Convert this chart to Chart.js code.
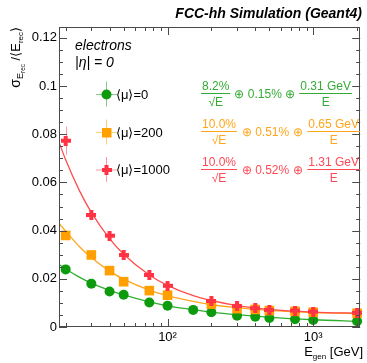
<!DOCTYPE html>
<html lang="en">
<head>
<meta charset="UTF-8">
<title>FCC-hh electron energy resolution</title>
<script src="https://cdn.jsdelivr.net/npm/chart.js"></script>
<style>
  html, body { margin: 0; padding: 0; background: #fff; }
  #resChart { display: block; }
</style>
</head>
<body>
<canvas id="resChart" width="367" height="363"></canvas>
<script>
// generated electron energies (GeV)
const energiesMu0 = [20, 30, 40, 50, 75, 100, 150, 200, 300, 400, 500, 750, 1000, 2000];
const energiesPU = [20, 30, 40, 50, 75, 100, 200, 300, 400, 500, 750, 1000, 2000];

// sigma(E)/<E>
const resMu0 = [0.0239, 0.0180, 0.0147, 0.0134, 0.0102, 0.0088, 0.0071, 0.0061, 0.0047, 0.0043, 0.0037, 0.0032, 0.0029, 0.0024];
const resMu200 = [0.0380, 0.0299, 0.0234, 0.0188, 0.0151, 0.0132, 0.0095, 0.0076, 0.0073, 0.0068, 0.0065, 0.0061, 0.0057];
const resMu1000 = [0.0773, 0.0465, 0.0379, 0.0299, 0.0216, 0.0171, 0.0108, 0.0087, 0.0078, 0.0071, 0.0068, 0.0064, 0.0059];

// vertical error bars
const errMu0 = [0.0008, 0.0006, 0.0005, 0.0005, 0.0004, 0.0004, 0.0003, 0.0003, 0.0002, 0.0002, 0.0002, 0.0002, 0.0002, 0.0002];
const errMu200 = [0.0012, 0.0009, 0.0008, 0.0007, 0.0006, 0.0005, 0.0004, 0.0003, 0.0003, 0.0003, 0.0003, 0.0003, 0.0003];
const errMu1000 = [0.0058, 0.0012, 0.0010, 0.0009, 0.0008, 0.0007, 0.0005, 0.0004, 0.0004, 0.0004, 0.0003, 0.0003, 0.0003];

// fitted curves
const fitE = [18, 20, 25, 30, 40, 50, 75, 100, 150, 200, 300, 500, 1000, 2100];
const fitMu0 = [0.0259, 0.0241, 0.0206, 0.0182, 0.0152, 0.0133, 0.0104, 0.0088, 0.0072, 0.0062, 0.0051, 0.0040, 0.0030, 0.0023];
const fitMu200 = [0.0430, 0.0398, 0.0332, 0.0288, 0.0232, 0.0199, 0.0153, 0.0130, 0.0106, 0.0093, 0.0080, 0.0069, 0.0060, 0.0056];
const fitMu1000 = [0.0767, 0.0694, 0.0563, 0.0476, 0.0367, 0.0302, 0.0216, 0.0173, 0.0130, 0.0110, 0.0089, 0.0073, 0.0062, 0.0057];

// axis ticks
const xTickValues = [20, 30, 40, 50, 60, 70, 80, 90, 100, 200, 300, 400, 500, 600, 700, 800, 900, 1000, 2000];
const xTickLabels = { 100: '10²', 1000: '10³' };
const yTickLabels = ['0', '0.02', '0.04', '0.06', '0.08', '0.1', '0.12'];

const legendLabels = ['⟨μ⟩=0', '⟨μ⟩=200', '⟨μ⟩=1000'];
const fitTexts = [
    ['8.2%', '0.15%', '0.31 GeV'],
    ['10.0%', '0.51%', '0.65 GeV'],
    ['10.0%', '0.52%', '1.31 GeV']
];

const GREEN = '#0d9a0d', ORANGE = '#ffa000', RED = '#ff3343';
const GREEN_LINE = '#2eb02e', ORANGE_LINE = '#ffa51f', RED_LINE = '#ff4d4d';
const GREEN_TXT = '#34ab34', ORANGE_TXT = '#ffa61c', RED_TXT = '#ff4a55';
const FONT = '"Liberation Sans", Arial, Helvetica, sans-serif';

// thick plus marker (ROOT style 34)
function makeCross(color) {
    const c = document.createElement('canvas');
    c.width = 10; c.height = 10;
    const g = c.getContext('2d');
    g.fillStyle = color;
    g.fillRect(0, 3, 10, 4);
    g.fillRect(3, 0, 4, 10);
    return c;
}
const redCross = makeCross(RED);

function toXY(xs, ys) {
    return xs.map((x, i) => ({ x: x, y: ys[i] }));
}

const decor = {
    id: 'decor',
    beforeDatasetsDraw(chart) {
        const ctx = chart.ctx;
        const ys = chart.scales.y;
        ctx.save();
        chart.data.datasets.forEach((ds, i) => {
            if (!ds.errors) return;
            const meta = chart.getDatasetMeta(i);
            ctx.strokeStyle = ds.errColor;
            ctx.lineWidth = 1;
            meta.data.forEach((pt, j) => {
                const v = ds.data[j].y, e = ds.errors[j];
                ctx.beginPath();
                ctx.moveTo(Math.round(pt.x) + 0.5, ys.getPixelForValue(v + e));
                ctx.lineTo(Math.round(pt.x) + 0.5, ys.getPixelForValue(v - e));
                ctx.stroke();
            });
        });
        ctx.restore();
    },
    afterDraw(chart) {
        const ctx = chart.ctx;
        const a = chart.chartArea;
        const xs = chart.scales.x, ys = chart.scales.y;
        ctx.save();

        // frame
        ctx.strokeStyle = '#4a4a4a';
        ctx.lineWidth = 1;
        ctx.strokeRect(Math.round(a.left) + 0.5, Math.round(a.top) + 0.5,
            Math.round(a.right - a.left) - 1, Math.round(a.bottom - a.top) - 1);

        // inward ticks
        ctx.beginPath();
        xs.ticks.forEach(t => {
            const px = Math.round(xs.getPixelForValue(t.value)) + 0.5;
            const len = xTickLabels[t.value] ? 8 : 4;
            ctx.moveTo(px, a.bottom); ctx.lineTo(px, a.bottom - len);
            ctx.moveTo(px, a.top); ctx.lineTo(px, a.top + len);
        });
        ys.ticks.forEach(t => {
            const py = Math.round(ys.getPixelForValue(t.value)) + 0.5;
            const len = Math.round(t.value * 1000) % 20 === 0 ? 8 : 4;
            ctx.moveTo(a.left, py); ctx.lineTo(a.left + len, py);
            ctx.moveTo(a.right, py); ctx.lineTo(a.right - len, py);
        });
        ctx.stroke();

        ctx.fillStyle = '#000';
        ctx.textBaseline = 'alphabetic';

        // header
        ctx.font = 'italic bold 14px ' + FONT;
        ctx.textAlign = 'right';
        ctx.fillText('FCC-hh Simulation (Geant4)', 362, 18);

        ctx.font = 'italic 14px ' + FONT;
        ctx.textAlign = 'left';
        ctx.fillText('electrons', 75, 50);
        ctx.fillText('|η| = 0', 75, 67);

        // x title: E_gen [GeV]
        const xParts = [['E', 13, 0], ['gen', 8, 3], [' [GeV]', 13, 0]];
        drawParts(ctx, xParts, 363, 356, true);

        // y title, rotated
        ctx.save();
        ctx.translate(20, 27);
        ctx.rotate(-Math.PI / 2);
        const yParts = [['σ', 14, 0], ['E', 9, 3], ['rec', 6.5, 5], [' /⟨E', 13, 0], ['rec', 8, 3], ['⟩', 13, 0]];
        drawParts(ctx, yParts, 0, 0, true);
        ctx.restore();

        // legend
        const rows = [94, 132, 169.5];
        const lx = 106;
        const sets = [chart.data.datasets[0], chart.data.datasets[1], chart.data.datasets[2]];
        sets.forEach((ds, i) => {
            const y = rows[i];
            ctx.strokeStyle = ds.errColor;
            ctx.beginPath();
            ctx.moveTo(96, y + 0.5); ctx.lineTo(117, y + 0.5);
            ctx.moveTo(lx + 0.5, y - 12.5); ctx.lineTo(lx + 0.5, y + 12.5);
            ctx.stroke();
            ctx.fillStyle = ds.backgroundColor;
            if (i === 0) {
                ctx.beginPath(); ctx.arc(lx + 0.5, y + 0.5, 5, 0, Math.PI * 2); ctx.fill();
            } else if (i === 1) {
                ctx.fillRect(lx - 4, y - 4, 9.5, 9.5);
            } else {
                ctx.drawImage(redCross, lx - 4.5, y - 4.5);
            }
            ctx.fillStyle = '#000';
            ctx.font = '13px ' + FONT;
            ctx.textAlign = 'left';
            ctx.fillText(legendLabels[i], 116, y + 4.5);
        });

        // fit formulas: first fraction starts at 201, last one ends at 360
        const bars = [92.5, 130.5, 168.5];
        const txtColors = [GREEN_TXT, ORANGE_TXT, RED_TXT];
        fitTexts.forEach((f, i) => {
            const yb = bars[i];
            ctx.fillStyle = txtColors[i];
            ctx.strokeStyle = txtColors[i];
            ctx.font = '12px ' + FONT;
            const x1 = drawFrac(ctx, f[0], '√E', 201, yb);
            const w2 = fracWidth(ctx, f[2], 'E');
            const end = i === 0 ? 352 : 360;
            drawFrac(ctx, f[2], 'E', end - w2, yb);
            ctx.textAlign = 'center';
            ctx.fillText('⊕ ' + f[1] + ' ⊕', (x1 + end - w2) / 2, yb + 5.5);
        });

        ctx.restore();
    }
};

function drawParts(ctx, parts, x, y, alignRight) {
    let total = 0;
    parts.forEach(p => { ctx.font = p[1] + 'px ' + FONT; total += ctx.measureText(p[0]).width; });
    let cx = alignRight ? x - total : x;
    ctx.textAlign = 'left';
    parts.forEach(p => {
        ctx.font = p[1] + 'px ' + FONT;
        ctx.fillText(p[0], cx, y + p[2]);
        cx += ctx.measureText(p[0]).width;
    });
}

function fracWidth(ctx, num, den) {
    return Math.max(ctx.measureText(num).width, ctx.measureText(den).width) + 2;
}

function drawFrac(ctx, num, den, x, yb) {
    const w = fracWidth(ctx, num, den);
    ctx.textAlign = 'center';
    ctx.fillText(num, x + w / 2, yb - 3);
    ctx.fillText(den, x + w / 2, yb + 13);
    ctx.lineWidth = 1;
    ctx.beginPath();
    ctx.moveTo(x, Math.round(yb) + 0.5);
    ctx.lineTo(x + w, Math.round(yb) + 0.5);
    ctx.stroke();
    return x + w;
}

const ctx = document.getElementById('resChart').getContext('2d');
const resChart = new Chart(ctx, {
    type: 'scatter',
    data: {
        datasets: [
            {
                label: legendLabels[0],
                data: toXY(energiesMu0, resMu0),
                errors: errMu0,
                errColor: 'rgba(13,154,13,0.5)',
                backgroundColor: GREEN,
                borderColor: GREEN,
                pointStyle: 'circle',
                pointRadius: 5,
                borderWidth: 0,
                clip: false,
                order: 3
            },
            {
                label: legendLabels[1],
                data: toXY(energiesPU, resMu200),
                errors: errMu200,
                errColor: 'rgba(255,160,0,0.5)',
                backgroundColor: ORANGE,
                borderColor: ORANGE,
                pointStyle: 'rect',
                pointRadius: 6.8,
                borderWidth: 0,
                clip: false,
                order: 2
            },
            {
                label: legendLabels[2],
                data: toXY(energiesPU, resMu1000),
                errors: errMu1000,
                errColor: 'rgba(255,51,67,0.5)',
                backgroundColor: RED,
                borderColor: RED,
                pointStyle: redCross,
                pointRadius: 6,
                borderWidth: 0,
                clip: false,
                order: 1
            },
            {
                data: toXY(fitE, fitMu0),
                showLine: true, borderColor: GREEN_LINE, borderWidth: 1.3,
                pointRadius: 0, cubicInterpolationMode: 'monotone', order: 6
            },
            {
                data: toXY(fitE, fitMu200),
                showLine: true, borderColor: ORANGE_LINE, borderWidth: 1.3,
                pointRadius: 0, cubicInterpolationMode: 'monotone', order: 5
            },
            {
                data: toXY(fitE, fitMu1000),
                showLine: true, borderColor: RED_LINE, borderWidth: 1.3,
                pointRadius: 0, cubicInterpolationMode: 'monotone', order: 4
            }
        ]
    },
    options: {
        responsive: false,
        animation: false,
        devicePixelRatio: 1,
        layout: { padding: { top: 27, right: 5, left: 0, bottom: 0 } },
        plugins: {
            legend: { display: false },
            tooltip: { enabled: false }
        },
        scales: {
            x: {
                type: 'logarithmic',
                min: 18,
                max: 2100,
                grid: { display: false, drawTicks: false },
                border: { display: false },
                afterBuildTicks: scale => {
                    scale.ticks = xTickValues.map(v => ({ value: v, major: !!xTickLabels[v] }));
                },
                afterFit: scale => { scale.height = 36; },
                ticks: {
                    autoSkip: false,
                    maxRotation: 0,
                    padding: 3,
                    color: '#000',
                    font: { family: FONT, size: 13 },
                    callback: v => xTickLabels[v] || ''
                }
            },
            y: {
                min: 0,
                max: 0.1245,
                grid: { display: false, drawTicks: false },
                border: { display: false },
                afterBuildTicks: scale => {
                    const t = [];
                    for (let i = 0; i <= 24; i++) t.push({ value: i * 0.005 });
                    scale.ticks = t;
                },
                afterFit: scale => { scale.width = 59; },
                ticks: {
                    autoSkip: false,
                    padding: 2,
                    color: '#000',
                    font: { family: FONT, size: 13 },
                    callback: v => {
                        const k = Math.round(v * 1000);
                        return k % 20 === 0 ? yTickLabels[k / 20] : '';
                    }
                }
            }
        }
    },
    plugins: [decor]
});
</script>
</body>
</html>
